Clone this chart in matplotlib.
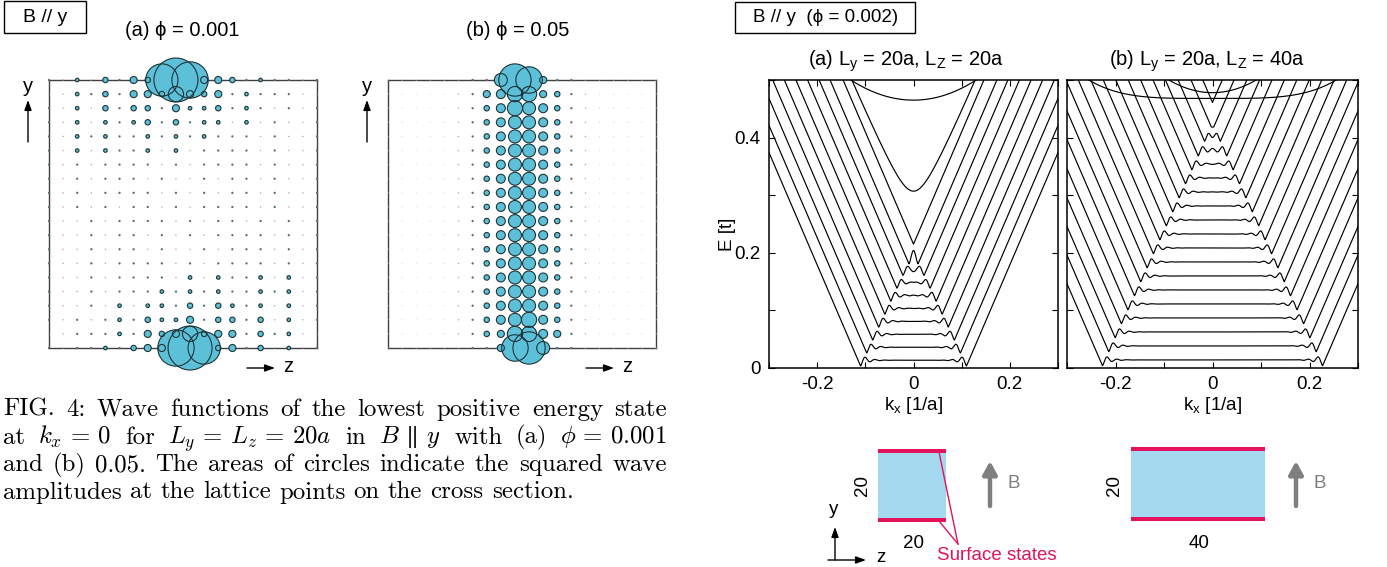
import numpy as np
import matplotlib
matplotlib.use("Agg")
import matplotlib.pyplot as plt
from matplotlib.patches import Rectangle
from matplotlib.ticker import MultipleLocator, FuncFormatter

# ---------------------------------------------------------------- data
# squared wave amplitude levels (relative) for the circle maps
amp_codes = ",.123456789AB"
amp_sq = [0.36, 0.5, 1.3, 3.2, 7.3, 12.5, 20.0, 42.0, 58.0, 175.0, 260.0, 330.0, 484.0]

# (a) phi = 0.001 : 20 x 20 lattice, row 0 = top (y = Ly), column 0 = z = 0
wave_a = [
    "1.2.31439BA4431211.1",
    "..2131443743412111..",
    "1.2.313314223121.1.1",
    "1.2.212313122.2.1..1",
    "1.2121121212111.1..1",
    "1.2.2112.2.1111.1..1",
    "1.1.1111.1.1111.1..1",
    "1.1.111.1..1.11.1..1",
    "1.1.1111.1.1.11.1..1",
    "1.1.1.11.1.1111.1..1",
    "1..1.1111.1.11.1.1.1",
    "1..1.11.1.1.1111.1.1",
    "1..1.11.1..1.111.1.1",
    "1..1.1111.1.1111.1.1",
    "1..1.1111.2.2112.2.1",
    "1..1.1112121211212.1",
    "1..1.2.221313212.2.1",
    "1.1.121322413313.2.1",
    "..1112143473441312..",
    "1.1121344AB93413.2.1",
]
# (b) phi = 0.05
wave_b = [
    ",,,,,,11698411,,,,,,",
    ",,,,,.14577431.,,,,,",
    ",,,,,.13576531.,,,,,",
    ",,,,,.13566531.,,,,,",
    ",,,,,.13566531.,,,,,",
    ",,,,,.13566531.,,,,,",
    ",,,,,.13566531.,,,,,",
    ",,,,,.13566531.,,,,,",
    ",,,,,.13566531.,,,,,",
    ",,,,,.13566531.,,,,,",
    ",,,,,.13566531.,,,,,",
    ",,,,,.13566531.,,,,,",
    ",,,,,.13566531.,,,,,",
    ",,,,,.13566531.,,,,,",
    ",,,,,.13566531.,,,,,",
    ",,,,,.13566531.,,,,,",
    ",,,,,.13566531.,,,,,",
    ",,,,,.13567531.,,,,,",
    ",,,,,.13477541.,,,,,",
    ",,,,,,11489611,,,,,,",
]

# band structures E(kx)
k_lim = [-0.3, 0.3]
E_lim = [0.0, 0.5]
side_slope = 1.95          # slope of the linear branches [t * a]
# (a) Ly = Lz = 20a : flat-bottom energies and kink half-widths
band_a_bottom = [0.0135, 0.036, 0.0585, 0.081, 0.1035, 0.126, 0.1485, 0.171, 0.1935, 0.215]
band_a_kink = [0.110, 0.0974, 0.0849, 0.0723, 0.0597, 0.0472, 0.0346, 0.022, 0.0095, 0.0]
band_a_hyper = [0.307, 0.242]     # minimum, asymptote offset
band_a_top = [0.465, 0.13]        # minimum, |k| where it reaches E = 0.5
# (b) Ly = 20a, Lz = 40a
band_b_bottom = [0.014, 0.0383, 0.0626, 0.0869, 0.1112, 0.1355, 0.1598, 0.1841, 0.2084, 0.2327,
                 0.257, 0.2813, 0.3056, 0.3299, 0.3542, 0.3785, 0.4028, 0.4271, 0.461]
band_b_kink = [0.227, 0.214, 0.201, 0.188, 0.1745, 0.161, 0.148, 0.135, 0.122, 0.1086,
               0.0954, 0.0822, 0.069, 0.0558, 0.0427, 0.0295, 0.0163, 0.0031, 0.0]
band_b_top = [0.468, 0.255]
band_b_cap = [0.478, 0.09]

x_tick_labels = {-0.2: "-0.2", 0.0: "0", 0.2: "0.2"}
y_tick_labels = {0.0: "0", 0.2: "0.2", 0.4: "0.4"}

caption_lines = [
    ["FIG.", "4:", "Wave", "functions", "of", "the", "lowest", "positive", "energy", "state"],
    ["at", r"$k_x\,=\,0$", "for", r"$L_y\,=\,L_z\,=\,20a$", "in", r"$B\,\parallel\,y$", "with", "(a)",
     r"$\phi\,=\,0.001$"],
    ["and", "(b)", "0.05.", "The", "areas", "of", "circles", "indicate", "the", "squared", "wave"],
    ["amplitudes", "at", "the", "lattice", "points", "on", "the", "cross", "section."],
]

# ---------------------------------------------------------------- figure
plt.rcParams['font.family'] = ['Liberation Sans', 'DejaVu Sans']
plt.rcParams['mathtext.fontset'] = 'custom'
plt.rcParams['mathtext.rm'] = 'Liberation Sans'
plt.rcParams['mathtext.it'] = 'Liberation Sans:italic'
plt.rcParams['mathtext.sf'] = 'Liberation Sans'

W, H = 1387, 567
fig = plt.figure(figsize=(W / 100, H / 100), dpi=100)
FS = 13.5
FT = 14.5


def px_rect(x0, y0, x1, y1):
    return [x0 / W, 1 - y1 / H, (x1 - x0) / W, (y1 - y0) / H]


bg = fig.add_axes([0, 0, 1, 1], zorder=0)
bg.set_xlim(0, W)
bg.set_ylim(H, 0)
bg.axis('off')
bg.patch.set_visible(False)

PHI = "\u03d5"


# ---------------------------------------------------------------- wave maps
def draw_wave(rect, rows):
    ax = fig.add_axes(px_rect(*rect), zorder=2)
    ax.set_xlim(0, 19)
    ax.set_ylim(0, 19)
    ax.set_xticks([])
    ax.set_yticks([])
    ax.patch.set_alpha(0)
    for sp in ax.spines.values():
        sp.set_linewidth(1.0)
        sp.set_color('#404040')
    xs, ys, a2, cd = [], [], [], []
    for r, row in enumerate(rows):
        for c, ch in enumerate(row):
            xs.append(c)
            ys.append(19 - r)
            a2.append(amp_sq[amp_codes.index(ch)])
            cd.append(ch)
    xs, ys, a2, cd = map(np.array, (xs, ys, a2, cd))
    s = 2.0736 * a2
    faint = np.isin(cd, [',', '.'])
    dark = cd == '1'
    big = ~(faint | dark)
    ax.scatter(xs[faint], ys[faint], s=s[faint],
               c=np.where(cd[faint] == ',', '#d6d6d6', '#a6a6a6'),
               linewidths=0, clip_on=False, zorder=3)
    ax.scatter(xs[dark], ys[dark], s=s[dark], c='#4f7178', linewidths=0,
               clip_on=False, zorder=3)
    order = np.argsort(-s[big])
    bx, by, bs = xs[big][order], ys[big][order], s[big][order]
    ax.scatter(bx, by, s=bs, c='#5cc0d8', linewidths=0, clip_on=False, zorder=4)
    ax.scatter(bx, by, s=bs, facecolors='none', edgecolors='#1e3438',
               linewidths=0.8, clip_on=False, zorder=5)
    return ax


draw_wave((49, 80, 317, 348), wave_a)
draw_wave((388, 80, 656, 348), wave_b)

bg.add_patch(Rectangle((4, 1), 82, 32, fill=False, lw=1.0, ec='k'))
bg.text(45, 18, "B // y", fontsize=14, ha='center', va='center')
bg.text(182, 31, "(a) " + PHI + " = 0.001", fontsize=FT, ha='center', va='center')
bg.text(518, 31, "(b) " + PHI + " = 0.05", fontsize=FT, ha='center', va='center')

arrow_kw = dict(arrowstyle='-|>,head_length=0.5,head_width=0.18', lw=1.0, color='k',
                shrinkA=0, shrinkB=0, mutation_scale=12)
for xy_y, xy_z in [((28, 86), (288, 367)), ((367, 86), (627, 367))]:
    bg.text(xy_y[0], xy_y[1], "y", fontsize=FT, ha='center', va='center')
    bg.annotate("", xy=(xy_y[0], 100), xytext=(xy_y[0], 142), arrowprops=arrow_kw)
    bg.text(xy_z[0], xy_z[1], "z", fontsize=FT, ha='center', va='center')
    bg.annotate("", xy=(xy_z[0] - 13, 368), xytext=(xy_z[0] - 41, 368), arrowprops=arrow_kw)


# ---------------------------------------------------------------- bands
def ripple(x, dk=0.010):
    return np.where(x >= 0, np.cos(np.pi * x / dk) * np.exp(-x / (1.5 * dk)), 0.0)


def band_curve(E0, kk, k, dip=0.010):
    ak = np.abs(k)
    if kk <= 0:
        return E0 + side_slope * ak
    inner = E0 - dip * (ripple(kk - ak) + ripple(kk + ak))
    Ek = E0 - dip * (1.0 + ripple(np.array(2 * kk)))
    return np.where(ak <= kk, inner, Ek + side_slope * (ak - kk))


def fmt_factory(d):
    def f(v, pos):
        for key, lab in d.items():
            if abs(v - key) < 1e-6:
                return lab
        return ""
    return FuncFormatter(f)


def band_axes(rect, bottoms, kinks, show_y):
    ax = fig.add_axes(px_rect(*rect), zorder=2)
    k = np.linspace(-0.34, 0.34, 3001)
    for E0, kk in zip(bottoms, kinks):
        ax.plot(k, band_curve(E0, kk, k), color='k', lw=0.85)
    ax.set_xlim(*k_lim)
    ax.set_ylim(*E_lim)
    ax.xaxis.set_major_locator(MultipleLocator(0.1))
    ax.yaxis.set_major_locator(MultipleLocator(0.1))
    ax.xaxis.set_major_formatter(fmt_factory(x_tick_labels))
    ax.yaxis.set_major_formatter(fmt_factory(y_tick_labels))
    ax.tick_params(direction='in', length=4.5, width=0.8, top=True, right=True,
                   labelsize=FS, pad=6)
    if not show_y:
        ax.tick_params(labelleft=False)
    for sp in ax.spines.values():
        sp.set_linewidth(1.1)
    return ax, k


axa, k = band_axes((769, 80, 1058, 368), band_a_bottom, band_a_kink, True)
Emin, c0 = band_a_hyper
axa.plot(k, c0 + np.sqrt((Emin - c0) ** 2 + (side_slope * k) ** 2), color='k', lw=0.85)
Emin, ke = band_a_top
axa.plot(k, Emin + (0.5 - Emin) * (k / ke) ** 2, color='k', lw=0.85)

axb, k = band_axes((1067, 80, 1358, 368), band_b_bottom, band_b_kink, False)
Emin, ke = band_b_top
axb.plot(k, Emin + (0.5 - Emin) * (k / ke) ** 4, color='k', lw=0.85)
Emin, ke = band_b_cap
axb.plot(k, Emin + (0.5 - Emin) * (k / ke) ** 2, color='k', lw=0.85)

bg.add_patch(Rectangle((735, 2), 180, 31, fill=False, lw=1.0, ec='k'))
bg.text(826, 18, "B // y  (" + PHI + " = 0.002)", fontsize=FS, ha='center', va='center')
bg.text(906, 61, r"(a) L$_\mathrm{y}$ = 20a, L$_\mathrm{Z}$ = 20a", fontsize=FT, ha='center', va='center')
bg.text(1207, 61, r"(b) L$_\mathrm{y}$ = 20a, L$_\mathrm{Z}$ = 40a", fontsize=FT, ha='center', va='center')
bg.text(727, 234, "E [t]", fontsize=FS, ha='center', va='center', rotation=90)
bg.text(913, 406, r"k$_\mathrm{x}$ [1/a]", fontsize=FS, ha='center', va='center')
bg.text(1212, 406, r"k$_\mathrm{x}$ [1/a]", fontsize=FS, ha='center', va='center')

# ---------------------------------------------------------------- cross-section sketches
blue = '#a4d8ef'
red = '#e3135c'
grey = '#7f7f7f'
for (x0, x1, y0, y1) in [(878, 946, 449, 522), (1131, 1265, 447, 521)]:
    bg.add_patch(Rectangle((x0, y0), x1 - x0, y1 - y0, color=blue, lw=0))
    bg.add_patch(Rectangle((x0, y0), x1 - x0, 4.3, color=red, lw=0))
    bg.add_patch(Rectangle((x0, y1 - 4.3), x1 - x0, 4.3, color=red, lw=0))
bg.text(863, 486, "20", fontsize=FS, ha='center', va='center', rotation=90)
bg.text(913, 543, "20", fontsize=FS, ha='center', va='center')
bg.text(1114, 485, "20", fontsize=FS, ha='center', va='center', rotation=90)
bg.text(1199, 543, "40", fontsize=FS, ha='center', va='center')
bkw = dict(arrowstyle='-|>,head_length=0.55,head_width=0.3', lw=3.2, color=grey,
           shrinkA=0, shrinkB=0, mutation_scale=14)
for xa in (990, 1296):
    bg.annotate("", xy=(xa, 461), xytext=(xa, 506), arrowprops=bkw)
    bg.text(xa + 24, 484, "B", fontsize=FS, ha='center', va='center', color=grey)
bg.plot([939, 958], [452, 544], color=red, lw=1.0)
bg.plot([939, 958], [521, 544], color=red, lw=1.0)
bg.text(937, 556, "Surface states", fontsize=FS, ha='left', va='center', color=red)
bg.text(834, 510, "y", fontsize=FS, ha='center', va='center')
bg.annotate("", xy=(835, 527), xytext=(835, 560), arrowprops=arrow_kw)
bg.annotate("", xy=(866, 560), xytext=(828, 560), arrowprops=arrow_kw)
bg.text(881, 558, "z", fontsize=FS, ha='center', va='center')

# ---------------------------------------------------------------- caption (justified)
renderer = fig.canvas.get_renderer()


def tokens(words, fs, y):
    objs = []
    for w in words:
        kw = dict(fontsize=fs, ha='left', va='baseline', family='cmr10')
        if w.startswith('$'):
            kw['math_fontfamily'] = 'cm'
        objs.append(bg.text(0, y, w, **kw))
    return objs


L, R = 3, 667
test = tokens(caption_lines[0], 10, -100)
wsum = sum(o.get_window_extent(renderer).width for o in test)
for o in test:
    o.remove()
space10 = 0.333 * 10 * 100 / 72
nat10 = wsum + space10 * (len(caption_lines[0]) - 1) + space10 * 0.8
cap_fs = 0.965 * 10 * (R - L) / nat10

baselines = [416, 443.5, 471, 498.5]
for i, (words, yb) in enumerate(zip(caption_lines, baselines)):
    objs = tokens(words, cap_fs, yb)
    ws = [o.get_window_extent(renderer).width for o in objs]
    if i < 3:
        gap = (R - L - sum(ws)) / (len(ws) - 1)
    else:
        gap = 0.333 * cap_fs * 100 / 72
    x = L
    for o, w in zip(objs, ws):
        o.set_x(x)
        x += w + gap

fig.savefig("out.png", dpi=100)
